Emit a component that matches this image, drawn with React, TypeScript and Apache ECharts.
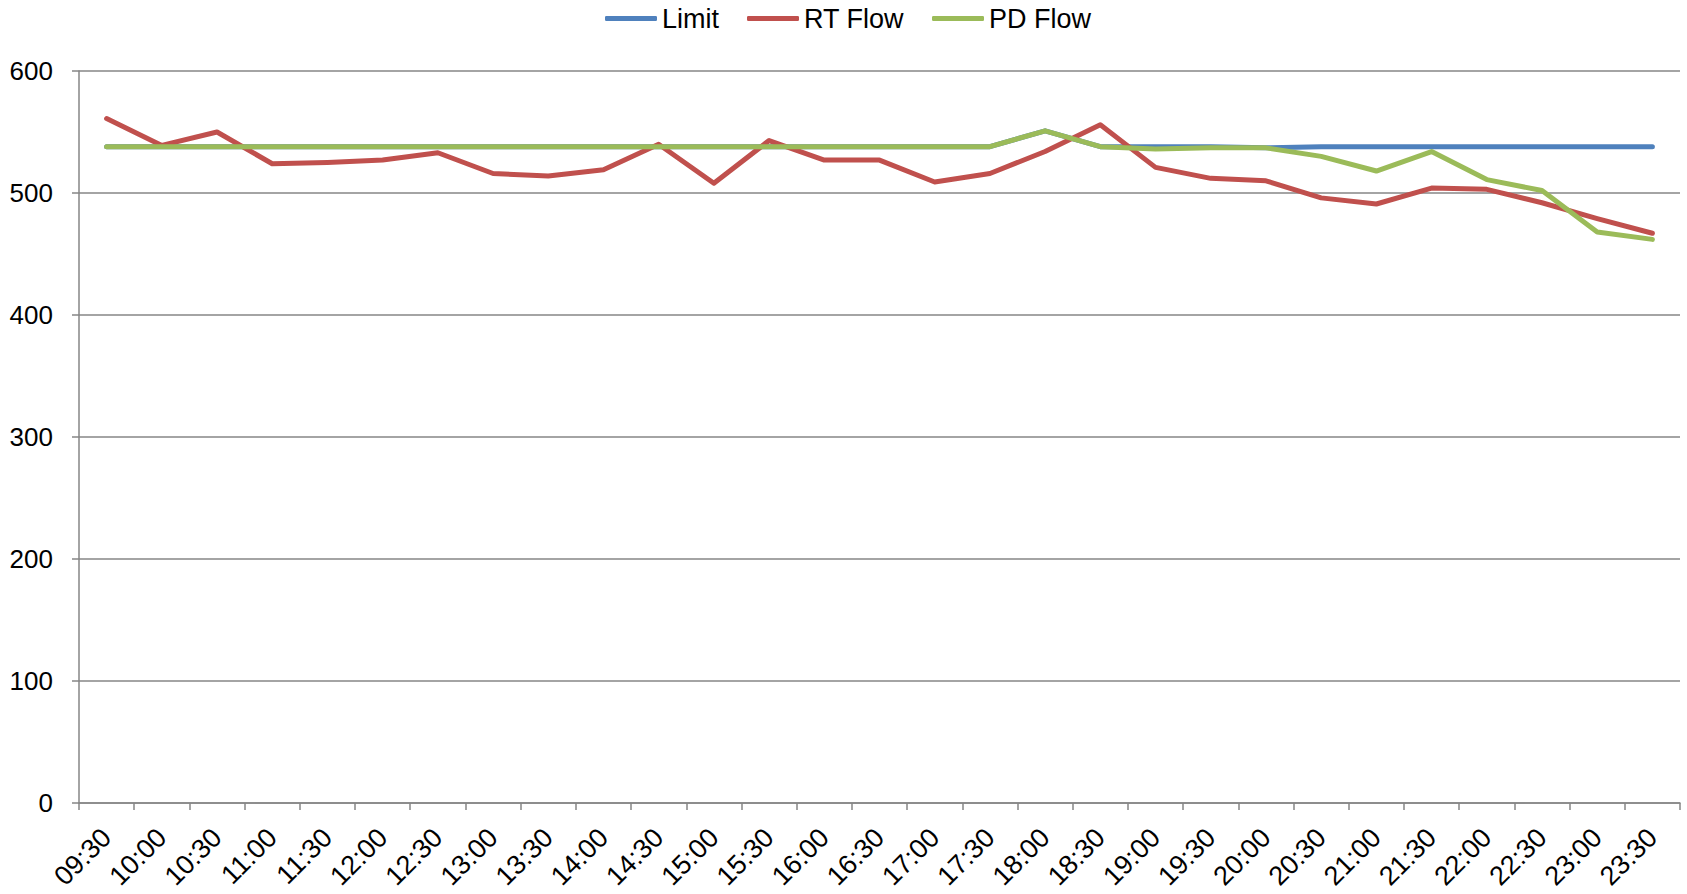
import React, { useEffect, useRef } from "react";
import * as echarts from "echarts";

const categories = [
  "09:30", "10:00", "10:30", "11:00", "11:30", "12:00", "12:30", "13:00", "13:30", "14:00",
  "14:30", "15:00", "15:30", "16:00", "16:30", "17:00", "17:30", "18:00", "18:30", "19:00",
  "19:30", "20:00", "20:30", "21:00", "21:30", "22:00", "22:30", "23:00", "23:30",
];

const limitValues = [
  538, 538, 538, 538, 538, 538, 538, 538, 538, 538,
  538, 538, 538, 538, 538, 538, 538, 551, 538, 538,
  538, 537, 538, 538, 538, 538, 538, 538, 538,
];

const rtFlowValues = [
  561, 539, 550, 524, 525, 527, 533, 516, 514, 519,
  540, 508, 543, 527, 527, 509, 516, 534, 556, 521,
  512, 510, 496, 491, 504, 503, 492, 479, 467,
];

const pdFlowValues = [
  538, 538, 538, 538, 538, 538, 538, 538, 538, 538,
  538, 538, 538, 538, 538, 538, 538, 551, 538, 536,
  537, 537, 530, 518, 534, 511, 502, 468, 462,
];

const seriesNames = ["Limit", "RT Flow", "PD Flow"];
const colors = ["#4F81BD", "#C0504D", "#9BBB59"];

export default function App() {
  const ref = useRef<HTMLDivElement>(null);
  useEffect(() => {
    document.body.style.margin = "0";
    document.body.style.overflow = "hidden";
    if (!ref.current) return;
    const chart = echarts.init(ref.current, undefined, { renderer: "svg" });
    const font = "'Liberation Sans', Arial, sans-serif";
    const dataSets = [limitValues, rtFlowValues, pdFlowValues];
    chart.setOption({
      animation: false,
      color: colors,
      textStyle: { fontFamily: font },
      legend: {
        top: 0,
        left: 600,
        icon: "roundRect",
        itemWidth: 52,
        itemHeight: 5,
        itemGap: 28,
        textStyle: { fontSize: 27, color: "#000", fontFamily: font },
        data: seriesNames,
      },
      grid: { left: 79, right: 7, top: 71, bottom: 91, containLabel: false },
      xAxis: {
        type: "category",
        data: categories,
        boundaryGap: true,
        axisLine: { lineStyle: { color: "#868686", width: 1.5 } },
        axisTick: { show: true, interval: 0, length: 7, lineStyle: { color: "#868686", width: 1.5 } },
        axisLabel: {
          interval: 0,
          rotate: 45,
          margin: 30,
          fontSize: 27,
          color: "#000",
          fontFamily: font,
        },
        splitLine: { show: false },
      },
      yAxis: {
        type: "value",
        min: 0,
        max: 600,
        interval: 100,
        axisLine: { show: true, lineStyle: { color: "#868686", width: 1.5 } },
        axisTick: { show: true, length: 7, lineStyle: { color: "#868686", width: 1.5 } },
        axisLabel: { fontSize: 26, color: "#000", margin: 26, fontFamily: font },
        splitLine: { show: true, lineStyle: { color: "#868686", width: 1.5 } },
      },
      series: seriesNames.map((name, i) => ({
        name,
        type: "line",
        data: dataSets[i],
        symbol: "none",
        showSymbol: false,
        lineStyle: { width: 5, color: colors[i], cap: "round", join: "round" },
        itemStyle: { color: colors[i] },
      })),
    });
    return () => chart.dispose();
  }, []);
  return <div ref={ref} style={{ width: 1687, height: 894 }} />;
}
